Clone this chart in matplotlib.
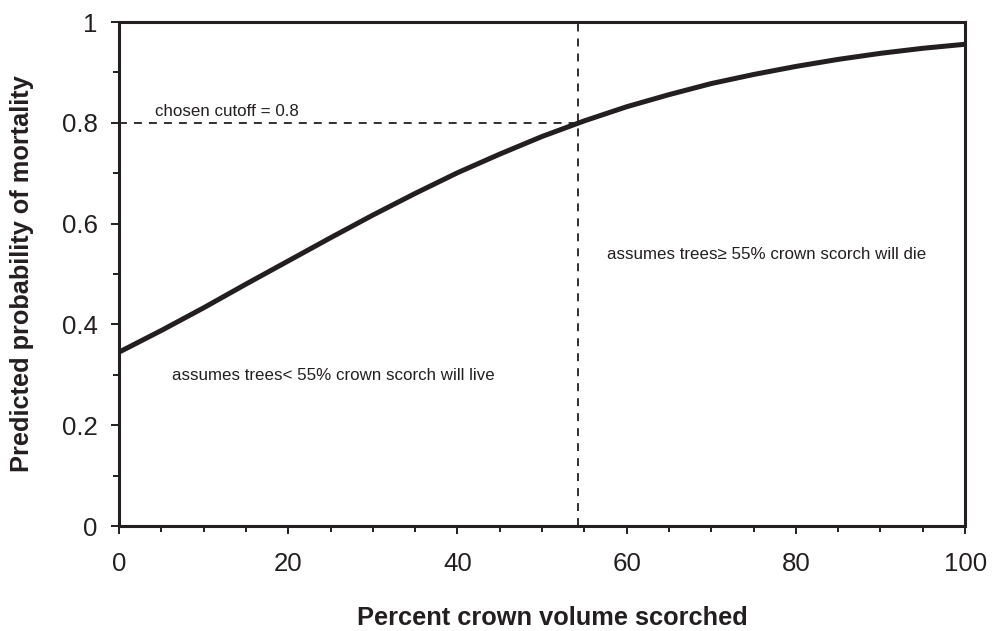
import matplotlib
matplotlib.use("Agg")
import matplotlib.pyplot as plt
from matplotlib.ticker import MultipleLocator

plt.rcParams['font.family'] = ['Liberation Sans', 'DejaVu Sans']

# Predicted mortality probability vs. percent crown volume scorched
scorch_pct = [0, 5, 10, 15, 20, 25, 30, 35, 40, 45, 50,
              55, 60, 65, 70, 75, 80, 85, 90, 95, 100]
mortality_prob = [0.345, 0.388, 0.433, 0.480, 0.526, 0.572, 0.617, 0.660,
                  0.701, 0.738, 0.773, 0.804, 0.832, 0.856, 0.878, 0.896,
                  0.912, 0.926, 0.938, 0.948, 0.956]

cutoff_prob = 0.8
cutoff_scorch = 54.3

ink = '#231f20'

fig = plt.figure(figsize=(9.97, 6.31), dpi=100)
ax = fig.add_axes([0.1194, 0.1664, 0.8486, 0.7986])

ax.plot(scorch_pct, mortality_prob, color=ink, lw=3.6, solid_capstyle='butt',
        zorder=3, clip_on=False)
ax.plot([0, cutoff_scorch], [cutoff_prob, cutoff_prob], color=ink, lw=1.3,
        dashes=(4.4, 3.9), zorder=2)
ax.plot([cutoff_scorch, cutoff_scorch], [0, 1], color=ink, lw=1.3,
        dashes=(4.4, 3.9), zorder=2)

ax.text(4.26, 0.813, 'chosen cutoff = 0.8', fontsize=12.2, color=ink,
        ha='left', va='baseline')
ax.text(6.26, 0.290, 'assumes trees< 55% crown scorch will live',
        fontsize=12.2, color=ink, ha='left', va='baseline')
ax.text(57.68, 0.530, 'assumes trees\u2265 55% crown scorch will die',
        fontsize=12.2, color=ink, ha='left', va='baseline')

ax.set_xlim(0, 100)
ax.set_ylim(0, 1)
ax.xaxis.set_major_locator(MultipleLocator(20))
ax.xaxis.set_minor_locator(MultipleLocator(5))
ax.yaxis.set_major_locator(MultipleLocator(0.2))
ax.yaxis.set_minor_locator(MultipleLocator(0.1))
ax.xaxis.set_major_formatter(plt.FuncFormatter(lambda v, p: f'{v:g}'))
ax.yaxis.set_major_formatter(plt.FuncFormatter(lambda v, p: f'{v:g}'))

for s in ax.spines.values():
    s.set_linewidth(2.2)
    s.set_color(ink)

ax.tick_params(which='both', direction='out', color=ink, width=1.4,
               top=False, right=False, labelsize=18.6, labelcolor=ink)
ax.tick_params(which='major', length=6)
ax.tick_params(axis='x', which='major', pad=13)
ax.tick_params(axis='y', which='major', pad=9.5)
ax.tick_params(which='minor', length=4.5)

fig.text(552 / 997, 1 - 625 / 631, 'Percent crown volume scorched',
         fontsize=18.3, fontweight='bold', color=ink,
         ha='center', va='baseline')
fig.text(22 / 997, 1 - 274 / 631, 'Predicted probability of mortality',
         fontsize=18.3, fontweight='bold', color=ink,
         ha='center', va='center', rotation=90)

fig.savefig('out.png', dpi=100)
